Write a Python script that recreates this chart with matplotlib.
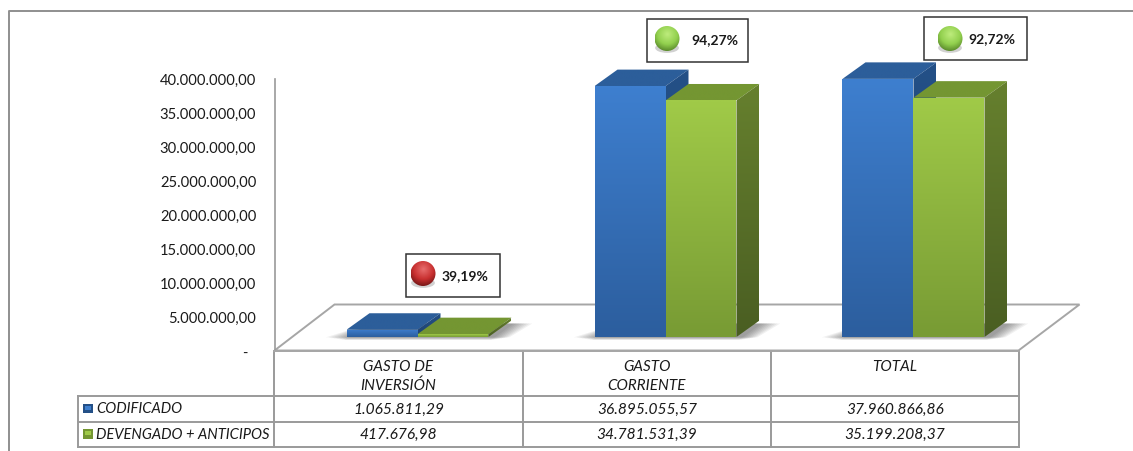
import numpy as np
import matplotlib
matplotlib.use('Agg')
import matplotlib.pyplot as plt
from matplotlib.patches import Polygon, Rectangle, Ellipse, Circle

categories = ['GASTO DE\nINVERSIÓN', 'GASTO\nCORRIENTE', 'TOTAL']
series_names = ['CODIFICADO', 'DEVENGADO + ANTICIPOS']
codificado = [1065811.29, 36895055.57, 37960866.86]
devengado = [417676.98, 34781531.39, 35199208.37]
percent_labels = ['39,19%', '94,27%', '92,72%']
percent_status = ['red', 'green', 'green']
y_ticks = [0, 5000000, 10000000, 15000000, 20000000, 25000000, 30000000, 35000000, 40000000]

plt.rcParams['font.family'] = ['Lato', 'DejaVu Sans']

W, H = 1133, 452
GREY = '#9a9a9a'
fig = plt.figure(figsize=(W / 100, H / 100), dpi=100, facecolor='white')


def fmt(v):
    return f'{v:,.2f}'.replace(',', '#').replace('.', ',').replace('#', '.')


# plot area, 248 px per category and 6.8 px per million
ax = fig.add_axes([274.5 / W, 1 - 351.5 / H, 744 / W, 272 / H], zorder=1)
ax.set_xlim(0, 3)
ax.set_ylim(0, 40000000)
ax.set_autoscale_on(False)
ax.patch.set_visible(False)
for s in ['top', 'right', 'bottom']:
    ax.spines[s].set_visible(False)
ax.spines['left'].set_color(GREY)
ax.spines['left'].set_linewidth(1.2)
ax.set_xticks([])
ax.set_yticks(y_ticks)
ax.set_yticklabels([fmt(t) if t else '-\u00a0\u00a0' for t in y_ticks], fontsize=10.6, color='#1a1a1a')
ax.tick_params(axis='y', length=0, pad=13.1)

px = 3 / 744
py = 40000000 / 272
base = 13.5 * py
bar_w = 71 * px
depth_x = 23 * px
depth_y = 16.5 * py

floor_x = 60 * px
floor_y = 46 * py
ax.add_patch(Polygon([(0, 0), (3, 0), (3 + 61 * px, floor_y), (floor_x, floor_y)], closed=True,
                     fc='white', ec='#a6a6a6', lw=1.4, clip_on=False, zorder=1))


def shade(verts, c_top, c_bottom, z):
    poly = Polygon(verts, closed=True, fc='none', ec='none', transform=ax.transData, clip_on=False)
    ax.add_patch(poly)
    t = np.linspace(0, 1, 64)[:, None, None]
    grad = (1 - t) * np.array(c_top)[None, None, :] + t * np.array(c_bottom)[None, None, :]
    xs = [p[0] for p in verts]
    ys = [p[1] for p in verts]
    im = ax.imshow(grad / 255, extent=(min(xs), max(xs), min(ys), max(ys)), origin='upper',
                   aspect='auto', zorder=z, interpolation='bilinear')
    im.set_clip_path(poly)
    # images stop at the axes box otherwise, the bar tops stick out above it
    im.set_clip_box(fig.bbox)


def bar3d(x, v, front, top, side, z):
    y0 = base
    y1 = base + v
    x1 = x + bar_w
    shade([(x, y1), (x + depth_x, y1 + depth_y), (x1 + depth_x, y1 + depth_y), (x1, y1)], top, top, z)
    shade([(x1, y0), (x1 + depth_x, y0 + depth_y), (x1 + depth_x, y1 + depth_y), (x1, y1)], side[0], side[1], z)
    shade([(x, y0), (x1, y0), (x1, y1), (x, y1)], front[0], front[1], z + 0.1)


for i in range(3):
    x_blue = i + 0.5 + 19 * px - bar_w
    x_green = i + 0.5 + 19 * px
    # soft shadow on the floor
    for g in range(1, 9):
        grow = (9 - g) * 2.6
        ax.add_patch(Polygon([(x_blue - grow * px, base - 3 * py * g / 8),
                              (x_green + bar_w + grow * px, base - 3 * py * g / 8),
                              (x_green + bar_w + depth_x + grow * px, base + depth_y - 3 * py),
                              (x_blue + depth_x, base + depth_y - 3 * py)],
                             closed=True, fc='black', ec='none', alpha=0.055, zorder=2, clip_on=False))
    bar3d(x_blue, codificado[i], [(62, 127, 207), (44, 94, 158)], (44, 94, 154), [(36, 80, 135), (30, 66, 112)], 3)
    bar3d(x_green, devengado[i], [(160, 202, 72), (120, 155, 52)], (116, 150, 50), [(102, 128, 46), (74, 94, 34)], 4)

# overlay in pixel coordinates for the frame, table and callouts
ov = fig.add_axes([0, 0, 1, 1], zorder=3)
ov.set_xlim(0, W)
ov.set_ylim(H - 0.5, -0.5)
ov.set_autoscale_on(False)
ov.axis('off')

ov.plot([9, 9, W], [H, 11, 11], color='#8f8f8f', lw=1.4)

col_x = [274, 523, 771, 1019]
for x in col_x:
    ov.plot([x, x], [351, 447], color=GREY, lw=1.4)
ov.plot([274, 1019], [351, 351], color='#a6a6a6', lw=1.4)
for y in [396, 422, 447]:
    ov.plot([78, 1019], [y, y], color=GREY, lw=1.4)
ov.plot([78, 78], [396, 447], color=GREY, lw=1.4)

txt = dict(style='italic', color='#1a1a1a', ha='center', va='center')
for i in range(3):
    cx = (col_x[i] + col_x[i + 1]) / 2
    ov.text(cx, 376 if '\n' in categories[i] else 367, categories[i], linespacing=1.4, fontsize=11, **txt)
    ov.text(cx, 409, fmt(codificado[i]), fontsize=11.2, **txt)
    ov.text(cx, 434.5, fmt(devengado[i]), fontsize=11.2, **txt)

swatches = [((62, 127, 207), (36, 80, 135)), ((160, 202, 72), (116, 150, 50))]
for name, y, sw in zip(series_names, [409, 434.5], swatches):
    ov.text(96, y, name, fontsize=10.6, style='italic', color='#1a1a1a', ha='left', va='center')
    ov.add_patch(Rectangle((83, y - 5), 10, 9.5, fc=np.array(sw[1]) / 255, ec='none'))
    ov.add_patch(Rectangle((85, y - 3), 6, 4, fc=np.array(sw[0]) / 255, ec='none'))


def sphere(cx, cy, r, light, mid, dark):
    ov.add_patch(Ellipse((cx, cy + r * 0.75), r * 1.9, r * 0.8, fc='black', ec='none', alpha=0.18, zorder=4.5))
    yy, xx = np.mgrid[-1:1:80j, -1:1:80j]
    d = np.clip(np.hypot(xx, yy + 0.35) / 1.35, 0, 1)[:, :, None]
    rgb = np.where(d < 0.6, np.array(light) + (np.array(mid) - np.array(light)) * d / 0.6,
                   np.array(mid) + (np.array(dark) - np.array(mid)) * (d - 0.6) / 0.4) / 255
    im = ov.imshow(rgb, extent=(cx - r, cx + r, cy + r, cy - r), aspect='auto', zorder=5)
    clip = Circle((cx, cy), r, transform=ov.transData, fc='none', ec='none')
    ov.add_patch(clip)
    im.set_clip_path(clip)


colors = {'red': ((232, 110, 110), (200, 48, 48), (120, 24, 24)),
          'green': ((190, 236, 125), (146, 208, 78), (92, 140, 44))}
boxes = [(406, 254, 94, 43), (647, 19, 101, 43), (924, 17, 103, 43)]
dots = [(423, 274), (667, 39), (950, 39)]
label_pos = [(442, 276), (691, 40), (968, 39)]
for i in range(3):
    b = boxes[i]
    ov.add_patch(Rectangle((b[0], b[1]), b[2], b[3], fc='white', ec='#333333', lw=1.1, zorder=4))
    sphere(dots[i][0], dots[i][1], 12.5, *colors[percent_status[i]])
    ov.text(label_pos[i][0], label_pos[i][1], percent_labels[i], fontsize=10, fontweight='bold',
            color='#1a1a1a', ha='left', va='center', zorder=6)

fig.savefig('out.png', dpi=100)
